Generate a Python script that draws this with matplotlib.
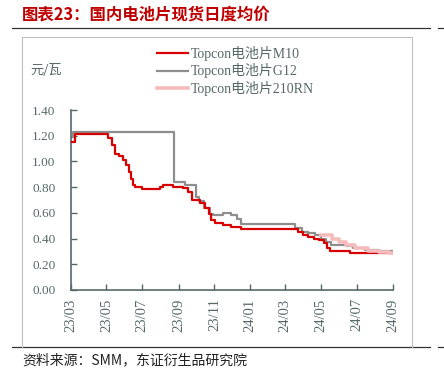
import matplotlib
matplotlib.use("Agg")
import matplotlib.pyplot as plt
import matplotlib.dates as mdates
from matplotlib.lines import Line2D
import pandas as pd

# ---------------- data ----------------
m10_dates = ["2023-03-01", "2023-03-08", "2023-05-04", "2023-05-10", "2023-05-16", "2023-05-22",
             "2023-05-29", "2023-06-04", "2023-06-09", "2023-06-12", "2023-06-15", "2023-06-18",
             "2023-06-30", "2023-07-31", "2023-08-05", "2023-08-23", "2023-09-09", "2023-09-17",
             "2023-09-23", "2023-10-07", "2023-10-16", "2023-10-23", "2023-10-27", "2023-11-02",
             "2023-11-16", "2023-11-30", "2023-12-17", "2024-03-23", "2024-03-31", "2024-04-08",
             "2024-04-18", "2024-04-28", "2024-05-06", "2024-05-11", "2024-05-16", "2024-06-19",
             "2024-09-01"]
m10_vals = [1.15, 1.21, 1.18, 1.13, 1.06, 1.04,
            1.01, 0.97, 0.92, 0.86, 0.82, 0.80,
            0.785, 0.80, 0.815, 0.80, 0.79, 0.765,
            0.70, 0.675, 0.635, 0.595, 0.545, 0.52,
            0.505, 0.49, 0.475, 0.453, 0.43, 0.415,
            0.40, 0.39, 0.365, 0.325, 0.30, 0.288,
            0.288]

g12_dates = ["2023-03-01", "2023-03-05", "2023-08-24", "2023-09-12", "2023-09-30", "2023-10-06",
             "2023-10-15", "2023-10-24", "2023-10-30", "2023-11-16", "2023-11-30", "2023-12-10",
             "2023-12-17", "2024-03-17", "2024-03-30", "2024-04-08", "2024-04-20", "2024-05-01",
             "2024-05-09", "2024-05-18", "2024-06-13", "2024-06-25", "2024-07-15", "2024-08-08",
             "2024-09-01"]
g12_vals = [1.19, 1.23, 0.84, 0.82, 0.725, 0.69,
            0.635, 0.595, 0.58, 0.60, 0.58, 0.55,
            0.51, 0.48, 0.455, 0.44, 0.43, 0.40,
            0.375, 0.35, 0.34, 0.325, 0.315, 0.30,
            0.295]

rn_dates = ["2024-05-01", "2024-05-20", "2024-06-01", "2024-06-12", "2024-06-28", "2024-07-20",
            "2024-08-08", "2024-08-25", "2024-09-01"]
rn_vals = [0.43, 0.40, 0.375, 0.35, 0.325, 0.305, 0.298, 0.285, 0.285]

series_names = ["Topcon电池片M10", "Topcon电池片G12", "Topcon电池片210RN"]
y_ticks = [0.0, 0.2, 0.4, 0.6, 0.8, 1.0, 1.2, 1.4]
x_start, x_end = "2023-03-01", "2024-09-01"

title = "图表23：国内电池片现货日度均价"
unit = "元/瓦"
source = "资料来源：SMM，东证衍生品研究院"

# ---------------- style ----------------
SLATE = "#566868"
serif_cjk = ["Liberation Serif", "Noto Sans CJK SC"]

fig = plt.figure(figsize=(4.44, 3.84), dpi=100)
ax = fig.add_axes([0.1592, 0.2448, 0.7266, 0.4687])

ax.plot(pd.to_datetime(m10_dates), m10_vals, drawstyle="steps-post", color="#D80000", lw=1.6,
        label=series_names[0], zorder=3)
ax.plot(pd.to_datetime(g12_dates), g12_vals, drawstyle="steps-post", color="#8E8E8E", lw=1.6,
        label=series_names[1], zorder=2)
ax.plot(pd.to_datetime(rn_dates), rn_vals, drawstyle="steps-post", color="#F6BCBC", lw=2.6,
        label=series_names[2], zorder=4)

ax.set_xlim(pd.Timestamp(x_start), pd.Timestamp(x_end))
ax.set_ylim(0, 1.4)
ax.set_yticks(y_ticks)
ax.set_yticklabels([f"{v:.2f}" for v in y_ticks])
ax.xaxis.set_major_locator(mdates.MonthLocator(bymonth=[1, 3, 5, 7, 9, 11]))
ax.xaxis.set_major_formatter(mdates.DateFormatter("%y/%m"))

for s in ["top", "right"]:
    ax.spines[s].set_visible(False)
for s in ["left", "bottom"]:
    ax.spines[s].set_color(SLATE)
    ax.spines[s].set_linewidth(1.2)

ax.tick_params(axis="both", direction="in", length=4, width=1.0, color=SLATE, labelcolor=SLATE)
ax.tick_params(axis="y", pad=11, labelsize=9.5)
ax.tick_params(axis="x", pad=6, labelsize=10.5, labelrotation=90)
for lab in ax.get_xticklabels() + ax.get_yticklabels():
    lab.set_family("Liberation Serif")
ax.patch.set_alpha(0)

leg = fig.legend(loc="upper left", bbox_to_anchor=(0.3536, 0.881), frameon=False,
                 prop=dict(family=serif_cjk, size=10), handlelength=2.2, handletextpad=0.2,
                 labelspacing=0.2, borderpad=0, borderaxespad=0)
for t in leg.get_texts():
    t.set_color(SLATE)

fig.text(0.0676, 0.8177, unit, family=["Noto Sans CJK SC"], fontsize=9.5, color=SLATE, va="center", ha="left")

# title, rules, frame, source
fig.text(0.0495, 0.961, title, family=["Noto Sans CJK SC"], fontweight="bold", fontsize=11.8,
         color="#C00000", va="center", ha="left")
for yy in [1 - 28 / 384, 1 - 347 / 384]:
    fig.add_artist(Line2D([12 / 444, 430 / 444], [yy, yy], transform=fig.transFigure, color="#333333", lw=0.9))
    fig.add_artist(Line2D([438 / 444, 1.0], [yy, yy], transform=fig.transFigure, color="#333333", lw=0.9))
fx0, fx1, fy0, fy1 = 22 / 444, 412 / 444, 1 - 347 / 384, 1 - 37 / 384
fig.add_artist(Line2D([fx0, fx0, fx1, fx1], [fy0, fy1, fy1, fy0], transform=fig.transFigure,
                      color="#BFBFBF", lw=0.8))
fig.text(0.0495, 1 - 360 / 384, source, family=["Noto Sans CJK SC", "Liberation Serif"], fontsize=10,
         color="#222222", va="center", ha="left")

fig.savefig("out.png", dpi=100)
